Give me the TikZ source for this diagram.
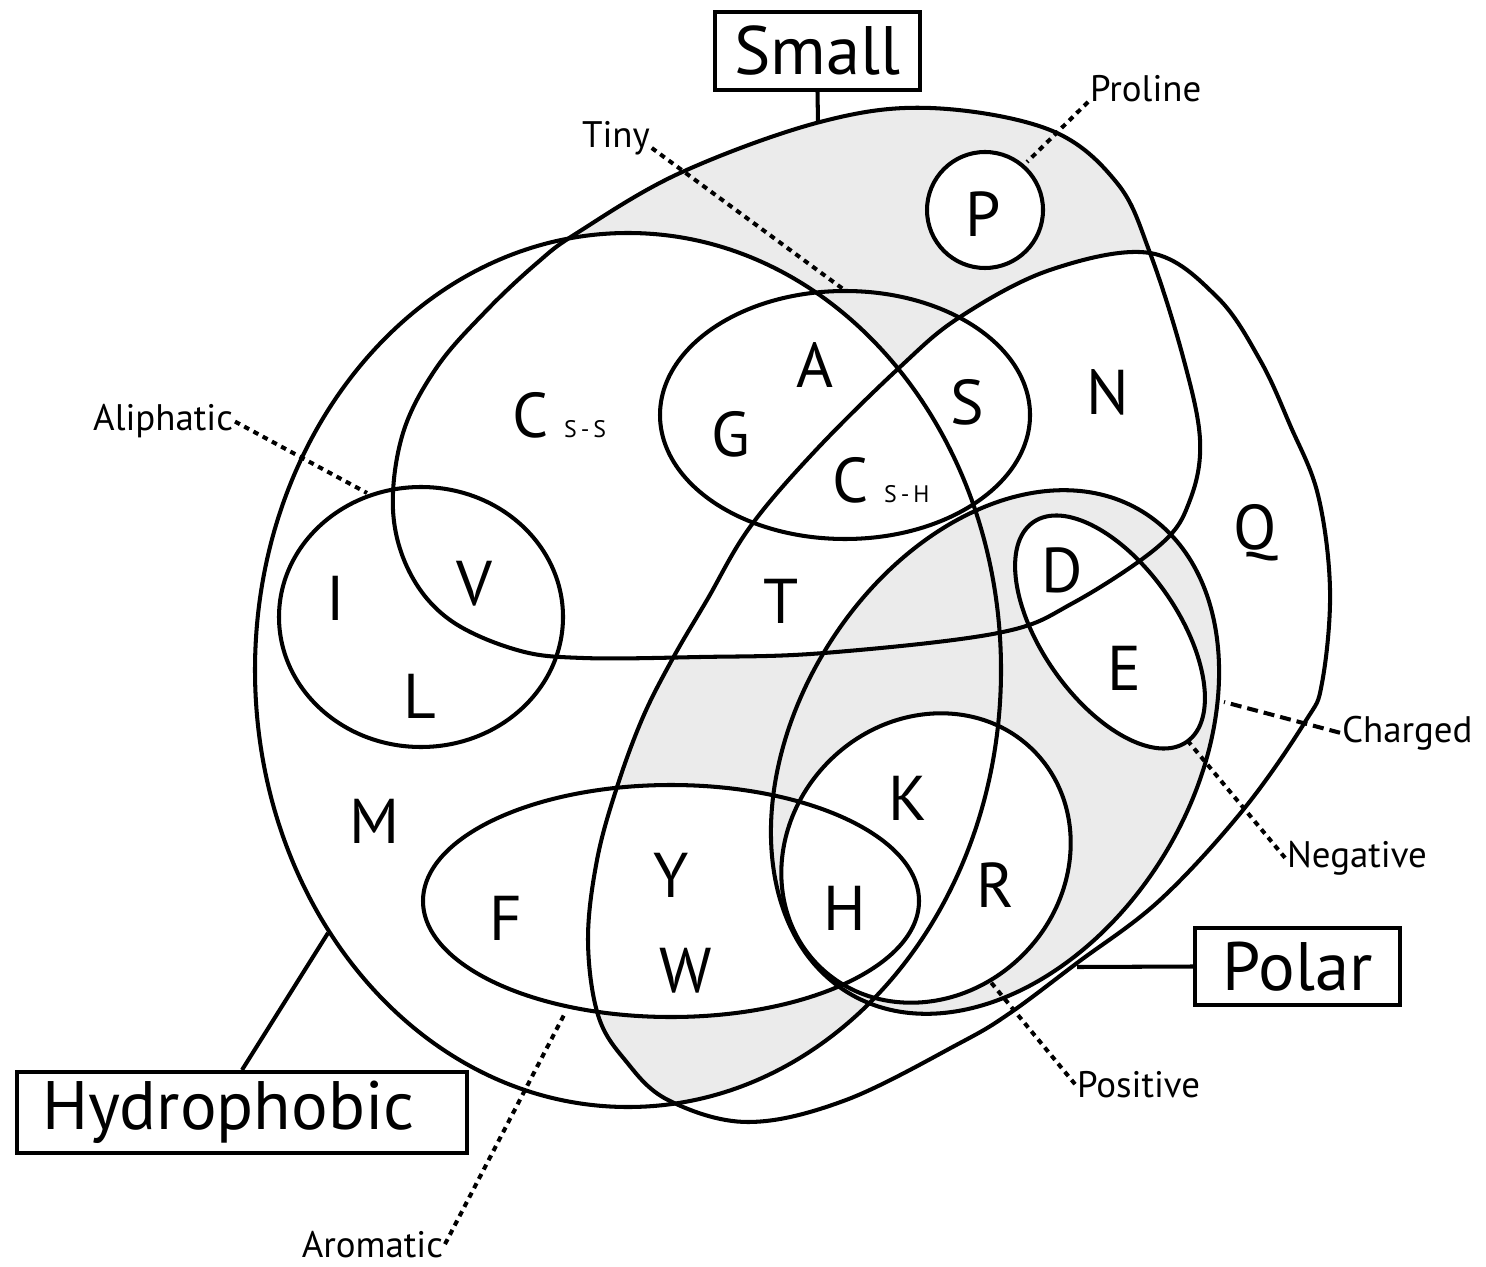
\documentclass[tikz,border=0pt]{standalone}
\usepackage{fontspec}
\setmainfont{PT Sans}
\usepackage{tikz}

\def\hydropath{(628,670) ellipse [x radius=373, y radius=437]}
\def\smallpath{plot[smooth cycle, tension=0.6] coordinates {(577,233) (680,173) (820,122) (930,108) (1050,130) (1117,183) (1150,253) (1183,357) (1200,440) (1190,500) (1160,545) (1073,603) (998,633) (824,653) (700,657) (583,658) (517,650) (450,620) (410,573) (393,510) (403,433) (437,367) (487,310) (537,263)}}
\def\polarpath{plot[smooth cycle, tension=0.6] coordinates {(1150,253) (1217,297) (1260,360) (1290,425) (1318,495) (1330,590) (1322,683) (1305,722) (1243,810) (1160,900) (1077,963) (1010,1013) (960,1043) (846,1100) (748,1122) (668,1100) (625,1060) (598,1015) (588,940) (597,860) (617,787) (643,717) (673,658) (707,600) (750,527) (816,450) (900,367) (960,317) (1050,270)}}
\def\aromapath{(671,901) ellipse [x radius=248, y radius=116]}
\def\subsz{\fontsize{6.8}{8}\selectfont}

\begin{document}
\begin{tikzpicture}[
  x=0.1mm, y=-0.1mm,
  line width=1.15pt,
  aa/.style     ={font=\fontsize{18}{20}\selectfont, inner sep=0pt, anchor=base},
  lbl/.style    ={font=\fontsize{10.5}{12}\selectfont, inner sep=0pt},
  setbox/.style ={draw, line width=1.15pt, font=\fontsize{19.5}{22}\selectfont,
                  inner sep=0pt, minimum height=7.8mm, minimum width=20.5mm},
  dots/.style   ={dash pattern=on 0.55mm off 0.5mm},
  dashes/.style ={dash pattern=on 1.1mm off 0.6mm},
  shade/.style  ={fill=black!8},
  charged/.style={rotate around={58.5:(995,752)}},
  negative/.style={rotate around={-55:(1110,632)}},
  positive/.style={rotate around={45:(926,858)}},
]
\useasboundingbox (0,0) rectangle (1486,1267);

% ---------- empty regions (grey) ----------
\fill[shade] \smallpath;
\fill[white] \hydropath;
\fill[white] \polarpath;
\fill[white] (985,210) circle [radius=58];
\begin{scope}
  \clip \polarpath;
  \clip \hydropath;
  \fill[shade] (0,0) rectangle (1486,1267);
  \fill[white] \smallpath;
  \fill[white] \aromapath;
\end{scope}
\fill[shade, charged] (995,752) ellipse [x radius=282, y radius=198];
\fill[white, negative] (1110,632) ellipse [x radius=134, y radius=68];
\fill[white, positive] (926,858) ellipse [x radius=152, y radius=137];

% ---------- set outlines ----------
\draw \hydropath;
\draw \smallpath;
\draw \polarpath;
\draw (845,415) ellipse [x radius=185, y radius=124];              % tiny
\draw (421,617) ellipse [x radius=142, y radius=130];              % aliphatic
\draw \aromapath;                                                  % aromatic
\draw[charged] (995,752) ellipse [x radius=282, y radius=198];
\draw[negative] (1110,632) ellipse [x radius=134, y radius=68];
\draw[positive] (926,858) ellipse [x radius=152, y radius=137];
\draw (985,210) circle [radius=58];                                % proline

% ---------- amino acids ----------
\node[aa] (aaP) at (983,237) {P};
\node[aa] (aaA) at (815,388) {A};
\node[aa] (aaG) at (731,457) {G};
\node[aa] (aaS) at (967,425) {S};
\node[aa] (aaN) at (1108,415) {N};
\node[aa] (aaQ) at (1255,550) {Q};
\node[aa] (aaI) at (336,620) {I};
\node[aa] (aaV) at (474,605) {V};
\node[aa] (aaL) at (420,718) {L};
\node[aa] (aaT) at (781,623) {T};
\node[aa] (aaD) at (1062,592) {D};
\node[aa] (aaE) at (1124,690) {E};
\node[aa] (aaM) at (375,843) {M};
\node[aa] (aaK) at (908,820) {K};
\node[aa] (aaR) at (995,907) {R};
\node[aa] (aaH) at (845,930) {H};
\node[aa] (aaY) at (671,897) {Y};
\node[aa] (aaW) at (686,992) {W};
\node[aa] (aaF) at (506,940) {F};
\node[aa, anchor=base west] (aaCss) at (510,438) {C\hspace{1.6mm}{\subsz S\,-\,S}};
\node[aa, anchor=base west] (aaCsh) at (830,503) {C\hspace{1.6mm}{\subsz S\,-\,H}};

% ---------- set names ----------
\node[setbox] (smallbox) at (817.5,51) {Small};
\node[setbox, minimum height=8.1mm, text width=40mm, inner xsep=2.5mm, align=left] (hydrobox) at (242,1112.5) {Hydrophobic};
\node[setbox, minimum height=7.7mm] (polarbox) at (1297.5,966.5) {Polar};

\node[lbl, anchor=base west] (tinylbl)    at (580,148)   {Tiny};
\node[lbl, anchor=base west] (prolinelbl) at (1088,102)  {Proline};
\node[lbl, anchor=base east] (aliphlbl)   at (235,431)   {Aliphatic};
\node[lbl, anchor=base west] (chargedlbl) at (1340,742)  {Charged};
\node[lbl, anchor=base west] (neglbl)     at (1285,867)  {Negative};
\node[lbl, anchor=base west] (poslbl)     at (1075,1097) {Positive};
\node[lbl, anchor=base east] (aromlbl)    at (445,1257)  {Aromatic};

% ---------- connectors ----------
\coordinate (smalltop)     at (818,122);
\coordinate (hydroedge)    at (328,933);
\coordinate (polaredge)    at (1077,967);
\coordinate (tinyedge)     at (843,289);
\coordinate (prolineedge)  at (1027,162);
\coordinate (aliphedge)    at (367,493);
\coordinate (chargededge)  at (1224,702);
\coordinate (negedge)      at (1187,740);
\coordinate (posedge)      at (989,980);
\coordinate (aromedge)     at (565,1013);

\draw (smallbox.south) -- (smalltop);
\draw (hydrobox.north) -- (hydroedge);
\draw (polarbox.west) -- (polaredge);
\draw[dots]   (tinylbl.base east)    -- (tinyedge);
\draw[dots]   (prolinelbl.base west) -- (prolineedge);
\draw[dots]   (aliphlbl.east)        -- (aliphedge);
\draw[dashes] (chargedlbl.west)      -- (chargededge);
\draw[dots]   (neglbl.west)          -- (negedge);
\draw[dots]   (poslbl.west)          -- (posedge);
\draw[dots]   (aromlbl.east)         -- (aromedge);

\end{tikzpicture}
\end{document}
